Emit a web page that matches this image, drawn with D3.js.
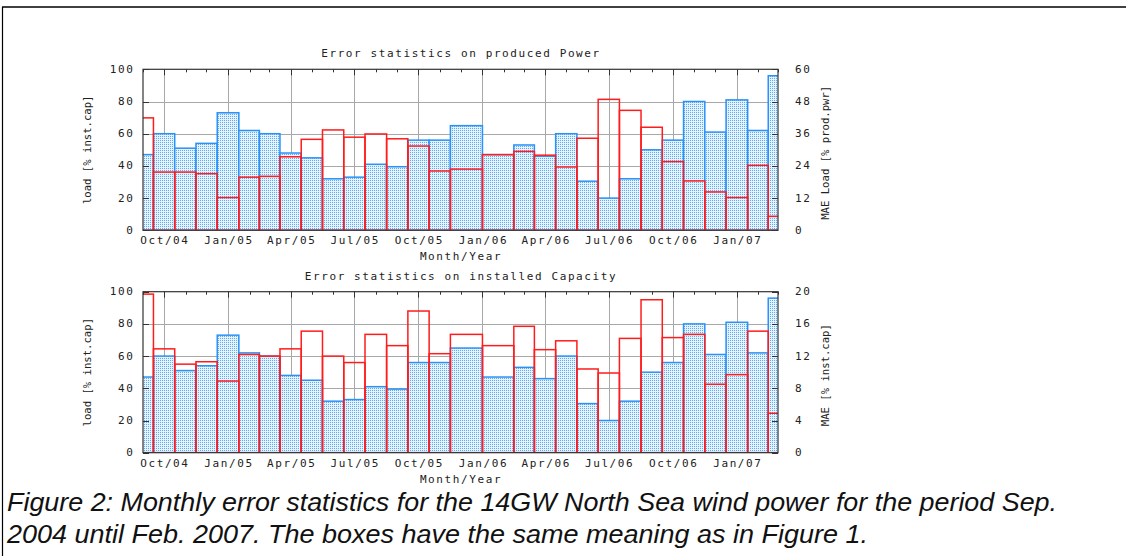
<!DOCTYPE html>
<html>
<head>
<meta charset="utf-8">
<script src="https://cdn.jsdelivr.net/npm/d3@7"></script>
<style>
  body { margin: 0; background: #fff; }
  svg text.mono { font-family: "DejaVu Sans Mono", monospace; }
  svg text.caption { font-family: "Liberation Sans Narrow", "Liberation Sans", Arial, sans-serif; font-style: italic; }
</style>
</head>
<body>
<svg id="fig" width="1126" height="556"></svg>
<script>
// Monthly data points (January 2006 has no record)
const months = [
  "2004-09","2004-10","2004-11","2004-12",
  "2005-01","2005-02","2005-03","2005-04","2005-05","2005-06",
  "2005-07","2005-08","2005-09","2005-10","2005-11","2005-12",
  "2006-02","2006-03","2006-04","2006-05","2006-06",
  "2006-07","2006-08","2006-09","2006-10","2006-11","2006-12",
  "2007-01","2007-02","2007-03"
];
// Mean load [% of installed capacity]
const load = [
  47, 60, 51, 54,
  73, 62, 60, 48, 45, 32,
  33, 41, 39.5, 56, 56, 65,
  47, 53, 46, 60, 30.5,
  20, 32, 50, 56, 80, 61,
  81, 62, 96
];
// MAE [% of produced power]
const maePower = [
  41.9, 21.7, 21.7, 21.1,
  12.2, 19.8, 20.1, 27.4, 33.9, 37.4,
  34.7, 35.9, 34.1, 31.4, 22.1, 22.8,
  28.2, 29.4, 28.0, 23.6, 34.3,
  48.8, 44.7, 38.4, 25.6, 18.4, 14.3,
  12.2, 24.2, 5.2
];
// MAE [% of installed capacity]
const maeCap = [
  19.7, 12.9, 11.0, 11.3,
  8.9, 12.2, 12.0, 12.9, 15.1, 12.0,
  11.2, 14.7, 13.3, 17.6, 12.3, 14.7,
  13.3, 15.7, 12.8, 13.9, 10.4,
  9.9, 14.2, 19.0, 14.3, 14.7, 8.5,
  9.7, 15.1, 4.9
];
const tickMonths = ["2004-10","2005-01","2005-04","2005-07","2005-10","2006-01","2006-04","2006-07","2006-10","2007-01"];
const tickLabels = ["Oct/04","Jan/05","Apr/05","Jul/05","Oct/05","Jan/06","Apr/06","Jul/06","Oct/06","Jan/07"];
const leftTicks = [0, 20, 40, 60, 80, 100];
const rightTicksPower = [0, 12, 24, 36, 48, 60];
const rightTicksCap = [0, 4, 8, 12, 16, 20];

const captionLines = [
  "Figure 2: Monthly error statistics for the 14GW North Sea wind power for the period Sep.",
  "2004 until Feb. 2007. The boxes have the same meaning as in Figure 1."
];

const parseMonth = d3.utcParse("%Y-%m");
const dates = months.map(parseMonth);

const svg = d3.select("#fig");
const defs = svg.append("defs");

// dotted fill used by the pattern boxes
const pat = defs.append("pattern")
  .attr("id", "dots").attr("width", 2).attr("height", 2)
  .attr("patternUnits", "userSpaceOnUse");
pat.append("rect").attr("width", 2).attr("height", 2).attr("fill", "#e6f3fe");
pat.append("rect").attr("width", 1).attr("height", 1).attr("fill", "#5aacf7");

// figure frame
svg.append("line").attr("x1", 2).attr("x2", 1126).attr("y1", 7).attr("y2", 7)
  .attr("stroke", "#000").attr("stroke-width", 1.5);
svg.append("line").attr("x1", 2.5).attr("x2", 2.5).attr("y1", 7).attr("y2", 556)
  .attr("stroke", "#000").attr("stroke-width", 1.2);

const x = d3.scaleUtc()
  .domain([new Date(Date.UTC(2004, 8, 1)), new Date(Date.UTC(2007, 2, 1))])
  .range([143, 778]);

// auto box widths: each box reaches halfway to its neighbours
const centers = dates.map(d => x(d));
const edges = centers.map((c, i) => {
  const prev = i > 0 ? centers[i - 1] : c - (centers[i + 1] - c);
  const next = i < centers.length - 1 ? centers[i + 1] : c + (c - centers[i - 1]);
  return [(prev + c) / 2, (c + next) / 2];
});

function monoText(g, str, px, py, opts = {}) {
  return g.append("text")
    .attr("class", "mono")
    .attr("x", px).attr("y", py)
    .attr("font-size", opts.size || 11)
    .attr("letter-spacing", opts.spacing != null ? opts.spacing : 1.6)
    .attr("text-anchor", opts.anchor || "start")
    .attr("dominant-baseline", "central")
    .attr("fill", "#222")
    .text(str);
}

function drawPanel(cfg) {
  const g = svg.append("g");
  const y = d3.scaleLinear().domain([0, 100]).range([cfg.bottom, cfg.top]);
  const y2 = d3.scaleLinear().domain([0, cfg.rightMax]).range([cfg.bottom, cfg.top]);
  const [x0, x1] = x.range();

  const clipId = "clip" + cfg.id;
  defs.append("clipPath").attr("id", clipId)
    .append("rect").attr("x", x0).attr("y", cfg.top)
    .attr("width", x1 - x0).attr("height", cfg.bottom - cfg.top);

  // grid
  const grid = g.append("g").attr("stroke", "#a8a8a8").attr("stroke-width", 1);
  leftTicks.slice(1, -1).forEach(v => {
    grid.append("line").attr("x1", x0).attr("x2", x1)
      .attr("y1", Math.round(y(v)) + 0.5).attr("y2", Math.round(y(v)) + 0.5);
  });
  tickMonths.forEach(m => {
    const xx = Math.round(x(parseMonth(m))) + 0.5;
    grid.append("line").attr("x1", xx).attr("x2", xx).attr("y1", cfg.top).attr("y2", cfg.bottom);
  });

  const plot = g.append("g").attr("clip-path", `url(#${clipId})`);

  // load boxes
  plot.selectAll("rect.load").data(load).join("rect")
    .attr("class", "load")
    .attr("x", (d, i) => edges[i][0])
    .attr("width", (d, i) => edges[i][1] - edges[i][0])
    .attr("y", d => y(d))
    .attr("height", d => cfg.bottom - y(d))
    .attr("fill", "url(#dots)")
    .attr("stroke", "#2a92f7").attr("stroke-width", 1.5);

  // MAE boxes on the right axis
  plot.selectAll("rect.mae").data(cfg.mae).join("rect")
    .attr("class", "mae")
    .attr("x", (d, i) => edges[i][0])
    .attr("width", (d, i) => edges[i][1] - edges[i][0])
    .attr("y", d => y2(d))
    .attr("height", d => cfg.bottom - y2(d))
    .attr("fill", "none")
    .attr("stroke", "#ff1c1c").attr("stroke-width", 1.5);

  // border
  g.append("rect").attr("x", x0).attr("y", cfg.top)
    .attr("width", x1 - x0).attr("height", cfg.bottom - cfg.top)
    .attr("fill", "none").attr("stroke", "#333").attr("stroke-width", 1.2);

  // month ticks along the top border, value ticks on both sides
  const tickG = g.append("g").attr("stroke", "#333").attr("stroke-width", 1);
  d3.utcMonth.range(x.domain()[0], d3.utcDay.offset(x.domain()[1], 1)).forEach(d => {
    const major = tickMonths.includes(d3.utcFormat("%Y-%m")(d));
    const xx = Math.round(x(d)) + 0.5;
    tickG.append("line").attr("x1", xx).attr("x2", xx)
      .attr("y1", cfg.top).attr("y2", cfg.top + (major ? 6 : 3));
  });
  leftTicks.forEach(v => {
    const yy = Math.round(y(v)) + 0.5;
    tickG.append("line").attr("x1", x0).attr("x2", x0 + 6).attr("y1", yy).attr("y2", yy);
  });
  cfg.rightTicks.forEach(v => {
    const yy = Math.round(y2(v)) + 0.5;
    tickG.append("line").attr("x1", x1 - 6).attr("x2", x1).attr("y1", yy).attr("y2", yy);
  });

  // tick labels
  leftTicks.forEach(v => monoText(g, String(v), 134.5, y(v), { anchor: "end" }));
  cfg.rightTicks.forEach(v => monoText(g, String(v), 795, y2(v)));
  tickMonths.forEach((m, i) => monoText(g, tickLabels[i], x(parseMonth(m)) + 1, cfg.bottom + 10.5, { anchor: "middle" }));

  // titles
  monoText(g, cfg.title, 461, cfg.top - 15.5, { anchor: "middle" });
  monoText(g, "Month/Year", 461, cfg.bottom + 26.5, { anchor: "middle" });

  const midY = (cfg.top + cfg.bottom) / 2;
  monoText(g, "load [% inst.cap]", 0, 0, { anchor: "middle", spacing: 0, size: 10.6 })
    .attr("transform", `translate(87,${midY}) rotate(-90)`);
  monoText(g, cfg.rightLabel, 0, 0, { anchor: "middle", spacing: 0, size: 10.6 })
    .attr("transform", `translate(825,${midY + 3}) rotate(-90)`);
}

drawPanel({
  id: "power", top: 69.3, bottom: 230.3, rightMax: 60,
  rightTicks: rightTicksPower, mae: maePower,
  title: "Error statistics on produced Power",
  rightLabel: "MAE Load [% prod.pwr]"
});
drawPanel({
  id: "cap", top: 291.7, bottom: 452.7, rightMax: 20,
  rightTicks: rightTicksCap, mae: maeCap,
  title: "Error statistics on installed Capacity",
  rightLabel: "MAE [% inst.cap]"
});

// caption
const capEnds = [1057, 868];
captionLines.forEach((t, i) => {
  svg.append("text")
    .attr("class", "caption")
    .attr("x", 7).attr("y", 511 + i * 32)
    .attr("font-size", 26)
    .attr("fill", "#111")
    .attr("textLength", capEnds[i] - 7)
    .attr("lengthAdjust", "spacingAndGlyphs")
    .text(t);
});
</script>
</body>
</html>
